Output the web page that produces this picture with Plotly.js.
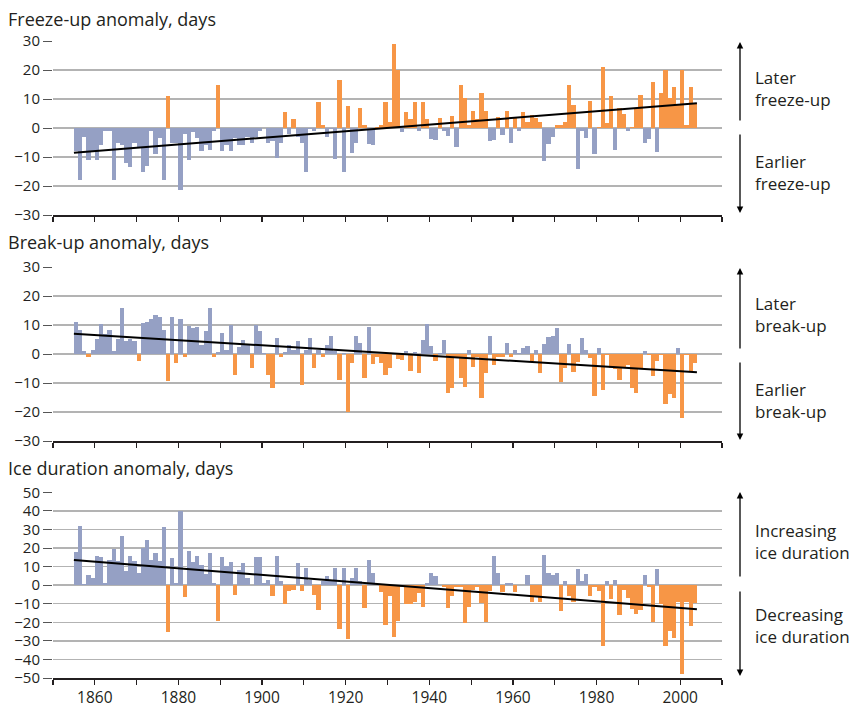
<!DOCTYPE html>
<html>
<head>
<meta charset="utf-8">
<script src="https://cdn.plot.ly/plotly-3.0.1.min.js"></script>
<style>html,body{margin:0;padding:0;background:#fff;}#chart{width:854px;height:709px;}</style>
</head>
<body>
<div id="chart"></div>
<script>
// ---- Data (anomalies in days), one bar per year starting at startYear ----
const startYear = 1855;

const freezeUp = [
  -8,-18,-3,-11,-8,-11,-6,-1,-1,-18,
  -5,-6,-12,-13.5,-5,-6.5,-15,-13,-1,-9,
  -3.5,-18,11,-5,-5,-21.5,-2,-11,-1.3,-3.5,
  -8,-6,-7.5,-1,15,-8,-6,-8,-3.5,-6,
  -6,-3,-5,-3,-1,0,-5,-4.5,-10.5,-5,
  5.5,-2,3,-3,-5,-15,-0.5,-1,9,1,
  -3,-0.5,-10.7,16.5,-15,7.5,-8.5,-5,7,1,
  -5.5,-6,0.5,1,9,2,29,20,-1.3,5.5,
  3,9,-1,9,3,-3.7,-4,3.5,-1,-2.7,
  4.2,-6.5,14.7,10.5,1,6,3,12,6,-4.4,
  -4,3.8,-2.3,6,-5,3.5,-1,5.5,2,4.5,
  3.5,2,-11.4,-5.5,-3,1,1,2,15,8,
  -14,-1,-3.4,9.4,-9,0.5,21,1.7,11,-7.6,
  7,5,-1,0.5,6.6,11.5,-5,-3.7,16,-8.3,
  12,20,10.5,14,8,20,1,14.3,8.5
];

const breakUp = [
  11,8.4,1,-1,1.4,5.2,10.5,7,8.4,1,
  5.2,15.7,4.5,5.2,4.5,-2.3,10.8,11.2,12.2,13.3,
  12.9,8.4,-9.3,12.9,-3,12.2,-1,9.8,9,9.4,
  3.1,8,16,-1,0.7,7.3,1.4,10.1,-7.2,2.4,
  4.9,3.1,-4.8,10.1,8,0.3,-7.2,-11.7,5.6,-1,
  0.7,3.1,1.4,4.5,-10.7,1.4,5.6,-4.8,1.4,-1,
  3.1,6.3,1,-9,0.5,-20,-3,6.3,3.8,-8.3,
  9.4,-3.4,-1,-3,-7.2,-4.8,0.3,-1.6,-2,1,
  -5.8,0.7,-6.5,4.9,10.5,2.8,-2.3,0.3,4.9,-13.5,
  -11.7,-1,-8.3,-11.4,1.4,-4.4,-1,-15,-6.5,6.3,
  -3.7,-1,-1,3.8,-1,1.4,0.3,2,2.8,-2.3,
  1.4,-6.5,3.5,5.9,6.3,9,-9.7,-4.8,3.5,-6.2,
  -2.7,5.6,1.4,-1.3,-14.5,2,-12.4,-0.5,-4.8,-5.1,
  -9,-4.4,-3.7,-11.7,-13.5,-5.1,1,-0.5,-7.6,-2.3,
  -0.5,-17.3,-13.8,-15.2,2,-22.2,-0.5,-5.8,-3
];

const iceDuration = [
  17.7,31.7,0.5,5.2,4.1,15.5,15,1,13.3,19.3,
  12.8,26.3,7.4,15.5,12.8,6.8,19.8,24.1,13.3,17.1,
  12.8,31.2,-25.4,14.4,1,39.8,-6.5,18.2,12.3,15.5,
  10.6,5.8,17.1,0.9,-19.5,15,10.1,12.3,-5.4,7.9,
  11.7,4.1,0,15,15,1.4,3,-6,15.5,2,
  -10.3,-3.2,-2.7,11.7,-3.2,9,3,-5.4,-13.5,2.5,
  4.7,2.5,9,-23.8,9,-29.2,4.1,9,2,-12.4,
  13.3,6.3,0,-3.8,-21.6,-6,-28.1,-19.5,-1,-10.3,
  -10.3,-9.2,-4.3,-11.9,1.4,6.8,4.7,0,-1,-12.4,
  -6,-1,-1,-20.5,-11.9,-2.7,-1,-9.7,-20,-3.2,
  15.5,6.8,-3.8,1.4,1.4,-3.8,0,0,5.2,-9.2,
  -6,-9.2,16,6.3,5.2,6.3,-14,2,-6,-9.2,
  8.5,2.5,5.8,-6,-1,-3.2,-33,2.5,-7.6,3,
  -16.2,-2.7,-7,-13,-15.7,-13.5,5.2,-1,-20,8.5,
  -10.3,-33,-24.9,-28.6,-9.2,-48,-9.2,-22.2,-9.7
];

// Linear trend end points
const trendYears = [1855, 2004];
const freezeTrend = [-8.5, 8.5];
const breakTrend = [7.0, -6.3];
const durationTrend = [13.5, -13.0];

const xTickLabels = ['1860','1880','1900','1920','1940','1960','1980','2000'];

// ---- Styling ----
const ORANGE = '#f79646';
const BLUE = '#95a0c4';
const FONT = 'Open Sans, Noto Sans, sans-serif';
const TXT = '#231f20';

const years = freezeUp.map((_, i) => startYear + i);

function barTrace(vals, warmWhenPositive, xa, ya) {
  return {
    type: 'bar', x: years, y: vals, xaxis: xa, yaxis: ya,
    width: 1, offset: 0,
    marker: { color: vals.map(v => ((v > 0) === warmWhenPositive ? ORANGE : BLUE)), line: { width: 0 } },
    hoverinfo: 'x+y', showlegend: false
  };
}
function trendTrace(vals, xa, ya) {
  return { type: 'scatter', mode: 'lines', x: trendYears, y: vals, xaxis: xa, yaxis: ya,
    line: { color: '#000', width: 2 }, showlegend: false, hoverinfo: 'skip' };
}

const data = [
  barTrace(freezeUp, true, 'x', 'y'),
  trendTrace(freezeTrend, 'x', 'y'),
  barTrace(breakUp, false, 'x2', 'y2'),
  trendTrace(breakTrend, 'x2', 'y2'),
  barTrace(iceDuration, false, 'x3', 'y3'),
  trendTrace(durationTrend, 'x3', 'y3')
];

// pixel helpers for layout placement
const L = 53, R = 722, T = 41, B = 678;
const px = x => (x - L) / (R - L);
const py = y => (B - y) / (B - T);

function xAxis(anchor, labels) {
  const a = {
    anchor: anchor, range: [1850, 2010], showgrid: false, zeroline: false,
    showline: true, linecolor: TXT, linewidth: 1.5,
    ticks: 'outside', ticklen: 5, tickcolor: TXT, tickwidth: 1.2,
    tickmode: 'linear', tick0: 1850, dtick: 10, showticklabels: false,
    fixedrange: true
  };
  if (labels) {
    a.tickmode = 'array';
    a.tickvals = xTickLabels.map(Number);
    a.ticktext = xTickLabels;
    a.showticklabels = true;
    a.tickfont = { family: FONT, size: 15.5, color: TXT };
    a.minor = { tickmode: 'linear', tick0: 1850, dtick: 10, ticks: 'outside', ticklen: 5, tickcolor: TXT, tickwidth: 1.2, showgrid: false };
  }
  return a;
}
function yAxis(domain, range) {
  return {
    domain: domain, range: range, tickmode: 'linear', tick0: 0, dtick: 10,
    showgrid: true, gridcolor: '#b3b3b3', gridwidth: 1.5, zeroline: false,
    showline: false, ticks: 'outside', ticklen: 9, tickcolor: '#555', tickwidth: 1,
    tickfont: { family: FONT, size: 15, color: TXT }, fixedrange: true
  };
}

function sideText(text, yc) {
  return { text: text, xref: 'paper', yref: 'paper', x: px(753), y: py(yc), xanchor: 'left', yanchor: 'middle',
    align: 'left', showarrow: false, font: { family: FONT, size: 17, color: TXT } };
}
function arrow(tipY, tailY) {
  return { text: '', xref: 'paper', yref: 'paper', x: px(740), y: py(tipY), ax: 0, ay: tailY - tipY,
    showarrow: true, arrowhead: 2, arrowsize: 1, arrowwidth: 1.3, arrowcolor: '#000', standoff: 0, startstandoff: 0 };
}
function title(text, yc) {
  return { text: text, xref: 'paper', yref: 'paper', x: px(6), y: py(yc), xanchor: 'left', yanchor: 'middle',
    showarrow: false, font: { family: FONT, size: 18, color: TXT } };
}

const layout = {
  width: 854, height: 709,
  margin: { l: L, r: 854 - R, t: T, b: 709 - B },
  paper_bgcolor: '#fff', plot_bgcolor: '#fff',
  bargap: 0, barmode: 'overlay',
  xaxis: xAxis('y', false),
  xaxis2: xAxis('y2', false),
  xaxis3: xAxis('y3', true),
  yaxis: yAxis([py(215), 1], [-30, 30]),
  yaxis2: yAxis([py(441), py(267)], [-30, 30]),
  yaxis3: yAxis([0, py(492.3)], [-50, 50]),
  showlegend: false,
  annotations: [
    title('Freeze-up anomaly, days', 19),
    title('Break-up anomaly, days', 242),
    title('Ice duration anomaly, days', 468),
    sideText('Later<br>freeze-up', 88),
    sideText('Earlier<br>freeze-up', 172),
    sideText('Later<br>break-up', 314),
    sideText('Earlier<br>break-up', 400),
    sideText('Increasing<br>ice duration', 541),
    sideText('Decreasing<br>ice duration', 625),
    arrow(42, 122), arrow(213, 133),
    arrow(268, 350), arrow(440, 361),
    arrow(492, 578), arrow(676, 590)
  ]
};

Plotly.newPlot('chart', data, layout, { staticPlot: true, displayModeBar: false });
</script>
</body>
</html>
